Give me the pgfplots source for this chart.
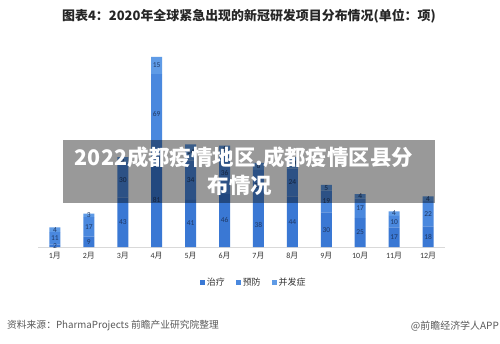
\documentclass[border=0pt]{standalone}
\usepackage{pgfplots}
\pgfplotsset{compat=1.18}
\usepackage{fontspec}
\setmainfont{Carlito}
\newfontfamily\cjk{Noto Sans CJK SC}
\definecolor{cA}{HTML}{3A78D4}
\definecolor{cB}{HTML}{4A88DE}
\definecolor{cC}{HTML}{5F9BE6}
\definecolor{lab}{HTML}{1F3864}
\begin{document}
\begin{tikzpicture}[x=1bp,y=1bp]
\path[fill=white] (0,0) rectangle (500,343);
\begin{axis}[
  at={(38bp,96bp)}, anchor=south west,
  scale only axis, width=407bp, height=207.4bp,
  xmin=-0.5, xmax=11.5, ymin=0, ymax=180,
  ybar stacked, bar width=11bp,
  axis y line=none, axis x line*=bottom,
  x axis line style={draw=black!15, line width=0.6pt},
  xtick={0,...,11}, major tick length=0pt,
  xticklabels={1{\cjk 月},2{\cjk 月},3{\cjk 月},4{\cjk 月},5{\cjk 月},6{\cjk 月},7{\cjk 月},8{\cjk 月},9{\cjk 月},10{\cjk 月},11{\cjk 月},12{\cjk 月}},
  xticklabel style={font=\fontsize{8}{9}\selectfont, text=black!80, yshift=-2bp},
  legend columns=3,
  legend style={at={(0.53,-0.169)}, anchor=center, draw=none, fill=none,
    font=\fontsize{9}{10}\selectfont\cjk, text=black!80,
    /tikz/every even column/.append style={column sep=9bp}},
  legend image code/.code={\fill[#1] (0bp,-2.5bp) rectangle (5bp,2.5bp);},
  clip=false,
]
\addplot+[fill=cA, draw=none] coordinates {(0,2) (1,9) (2,43) (3,81) (4,41) (5,46) (6,38) (7,44) (8,30) (9,25) (10,17) (11,18)};
\addplot+[fill=cB, draw=none] coordinates {(0,11) (1,17) (2,30) (3,69) (4,34) (5,36) (6,29) (7,24) (8,19) (9,17) (10,10) (11,22)};
\addplot+[fill=cC, draw=none] coordinates {(0,4) (1,3) (2,5) (3,15) (4,14) (5,6) (6,6) (7,10) (8,5) (9,4) (10,4) (11,4)};
\legend{治疗,预防,并发症}
\end{axis}
\begin{axis}[
  at={(38bp,96bp)}, anchor=south west,
  scale only axis, width=407bp, height=207.4bp,
  xmin=-0.5, xmax=11.5, ymin=0, ymax=180,
  hide axis, clip=false,
  nodes near coords, point meta=explicit symbolic,
  every node near coord/.style={anchor=center, font=\fontsize{7.5}{8}\selectfont, text=lab, inner sep=0pt},
]
\addplot[only marks, mark=none] table[meta=l] {
x y l
0 1 2
0 7.5 11
0 15 4
1 4.5 9
1 17.5 17
1 27.5 3
2 21.5 43
2 58 30
2 75.5 5
3 40.5 81
3 115.5 69
3 157.5 15
4 20.5 41
4 58 34
4 82 14
5 23 46
5 64 36
5 85 6
6 19 38
6 52.5 29
6 70 6
7 22 44
7 56 24
7 73 10
8 15 30
8 39.5 19
8 51.5 5
9 12.5 25
9 33.5 17
9 44 4
10 8.5 17
10 22 10
10 29 4
11 9 18
11 29 22
11 42 4
};
\end{axis}
\node[font=\fontsize{13}{15}\selectfont\cjk\bfseries, text=black!85] at (249,327) {图表4：2020年全球紧急出现的新冠研发项目分布情况(单位：项)};
\node[anchor=west, font=\fontsize{9.8}{11}\selectfont\cjk, text=black!65, inner sep=0pt] at (7,17) {资料来源：PharmaProjects 前瞻产业研究院整理};
\node[anchor=east, font=\fontsize{10}{11}\selectfont\cjk, text=black!65, inner sep=0pt] at (499,17) {@前瞻经济学人APP};
\fill[black, opacity=0.4] (63,140) rectangle (435,203);
\node[font=\fontsize{21.5}{24}\selectfont\cjk\bfseries, text=white] at (244,186) {2022成都疫情地区.成都疫情区县分};
\node[font=\fontsize{21.5}{24}\selectfont\cjk\bfseries, text=white] at (240,158) {布情况};
\end{tikzpicture}
\end{document}
